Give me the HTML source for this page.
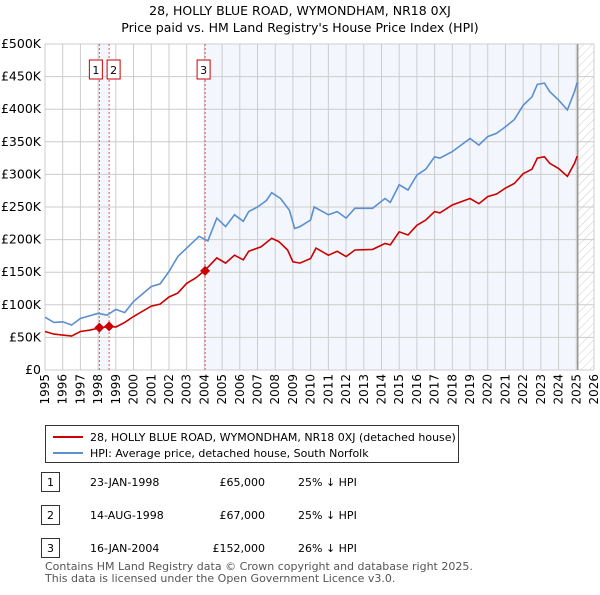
<!DOCTYPE html>
<html><head><meta charset="utf-8"><style>
body{margin:0;background:#fff;font-family:"Liberation Sans",sans-serif;}
svg text{font-family:"DejaVu Sans","Liberation Sans",sans-serif;}
</style></head><body>
<svg id="c" width="600" height="590" xmlns="http://www.w3.org/2000/svg">
<defs><pattern id="h" width="6" height="6" patternUnits="userSpaceOnUse" patternTransform="rotate(45)"><line x1="0" y1="0" x2="0" y2="6" stroke="#ccc" stroke-width="1"/></pattern></defs>
<text x="300" y="15" text-anchor="middle" font-size="12.5">28, HOLLY BLUE ROAD, WYMONDHAM, NR18 0XJ</text>
<text x="300" y="32" text-anchor="middle" font-size="12.5">Price paid vs. HM Land Registry's House Price Index (HPI)</text>
<g id="plot"></g>
<g>
<rect x="45.5" y="425.5" width="413" height="37" fill="#fff" stroke="#333"/>
<line x1="53" y1="437" x2="83" y2="437" stroke="#cc0000" stroke-width="2"/>
<text x="90" y="441" font-size="11">28, HOLLY BLUE ROAD, WYMONDHAM, NR18 0XJ (detached house)</text>
<line x1="53" y1="453" x2="83" y2="453" stroke="#5b8fd0" stroke-width="2"/>
<text x="90" y="457" font-size="11">HPI: Average price, detached house, South Norfolk</text>
</g>
<g id="tbl" font-size="11"></g>
<text x="45" y="570" font-size="11" fill="#555">Contains HM Land Registry data © Crown copyright and database right 2025.</text>
<text x="45" y="582" font-size="11" fill="#555">This data is licensed under the Open Government Licence v3.0.</text>
</svg>
<script>
const yearTicks=[1995,1996,1997,1998,1999,2000,2001,2002,2003,2004,2005,2006,2007,2008,2009,2010,2011,2012,2013,2014,2015,2016,2017,2018,2019,2020,2021,2022,2023,2024,2025,2026];
const valueTicks=[0,50000,100000,150000,200000,250000,300000,350000,400000,450000,500000];
const valueTickLabels=["£0","£50K","£100K","£150K","£200K","£250K","£300K","£350K","£400K","£450K","£500K"];
const hpiYears=[1995,1995.5,1996,1996.5,1997,1998,1998.5,1999,1999.5,2000,2001,2001.5,2002,2002.5,2003,2003.7,2004.2,2004.7,2005.2,2005.7,2006.2,2006.5,2007,2007.5,2007.8,2008.3,2008.8,2009.1,2009.4,2010,2010.2,2011,2011.5,2012,2012.5,2013.5,2014.2,2014.5,2015,2015.5,2016,2016.5,2017,2017.3,2018,2019,2019.5,2020,2020.5,2021,2021.5,2022,2022.5,2022.8,2023.2,2023.5,2024,2024.5,2024.9,2025.05];
const hpiValues=[81000,73000,74000,69000,79000,87000,84000,93000,88000,105000,128000,132000,151000,174000,187000,205000,198000,233000,220000,238000,228000,243000,250000,260000,272000,263000,245000,217000,220000,230000,250000,238000,243000,233000,248000,248000,263000,257000,284000,276000,299000,308000,327000,325000,335000,355000,345000,358000,363000,373000,384000,406000,419000,438000,440000,427000,414000,399000,427000,441000];
const propYears=[1995,1995.5,1996.5,1997,1997.5,1998,1998.6,1999,1999.5,2000,2001,2001.5,2002,2002.5,2003,2003.5,2004,2004.7,2005.2,2005.7,2006.2,2006.5,2007.2,2007.8,2008.2,2008.7,2009.0,2009.4,2010,2010.3,2011,2011.5,2012,2012.5,2013.5,2014.2,2014.5,2015,2015.5,2016,2016.5,2017,2017.3,2018,2019,2019.5,2020,2020.5,2021,2021.5,2022,2022.5,2022.8,2023.2,2023.5,2024,2024.5,2024.9,2025.05];
const propValues=[59000,55000,52000,59000,61000,64000,67000,66000,73000,82000,98000,101000,112000,118000,133000,141000,152000,172000,164000,176000,169000,182000,189000,202000,197000,184000,166000,164000,171000,187000,176000,182000,174000,184000,185000,194000,192000,212000,207000,222000,230000,243000,241000,253000,263000,255000,266000,270000,279000,286000,301000,308000,325000,327000,317000,309000,297000,317000,328000];
const saleLabels=["1","2","3"];
const saleYears=[1998.07,1998.62,2004.04];
const salePrices=[65000,67000,152000];
const saleDates=["23-JAN-1998","14-AUG-1998","16-JAN-2004"];
const salePriceText=["£65,000","£67,000","£152,000"];
const saleHpiText=["25% ↓ HPI","25% ↓ HPI","26% ↓ HPI"];
const dataEnd=2025.08;

const X0=45,X1=594,Y0=370,Y1=44;
const xs=y=>X0+(y-1995)/(2026-1995)*(X1-X0);
const ys=v=>Y0-v/500000*(Y0-Y1);
const NS="http://www.w3.org/2000/svg";
function mk(p,t,a){const e=document.createElementNS(NS,t);for(const k in a)e.setAttribute(k,a[k]);p.appendChild(e);return e;}
const g=document.getElementById('plot');
let r;
r=mk(g,'rect',{x:xs(saleYears[0]),y:Y1,width:xs(saleYears[1])-xs(saleYears[0]),height:Y0-Y1,fill:'#eef3fc',opacity:0.7});

r=mk(g,'rect',{x:xs(saleYears[2]),y:Y1,width:xs(dataEnd)-xs(saleYears[2]),height:Y0-Y1,fill:'#eef3fc',opacity:0.7});

r=mk(g,'rect',{x:xs(dataEnd),y:Y1,width:X1-xs(dataEnd),height:Y0-Y1,fill:'url(#h)'});

yearTicks.forEach(y=>{const l=mk(g,'line',{x1:xs(y),x2:xs(y),y1:Y1,y2:Y0,stroke:'#ccc'});

const t=mk(g,'text',{x:0,y:0,'font-size':12,'text-anchor':'end',transform:`translate(${xs(y)+4},${Y0+4}) rotate(-90)`});t.textContent=y;
});
valueTicks.forEach((v,i)=>{const l=mk(g,'line',{x1:X0,x2:X1,y1:ys(v),y2:ys(v),stroke:'#ccc'});

const t=mk(g,'text',{x:X0-4,y:ys(v)+4,'font-size':12.5,'text-anchor':'end'});t.textContent=valueTickLabels[i];
});
r=mk(g,'line',{x1:xs(dataEnd),x2:xs(dataEnd),y1:Y1,y2:Y0,stroke:'#999','stroke-width':1.5});

saleYears.forEach((y,i)=>{const l=mk(g,'line',{x1:xs(y),x2:xs(y),y1:Y1,y2:Y0,stroke:'#f05050','stroke-dasharray':'2,2'});
});
function path(xsA,vs,c,name){const d=xsA.map((y,i)=>(i?'L':'M')+xs(y).toFixed(1)+','+ys(vs[i]).toFixed(1)).join('');
const p=mk(g,'path',{d:d,fill:'none',stroke:c,'stroke-width':1.6});}
path(hpiYears,hpiValues,'#5b8fd0','hpi-line');
path(propYears,propValues,'#cc0000','property-price-line');
saleYears.forEach((y,i)=>{const cx=xs(y),cy=ys(salePrices[i]);
const d=mk(g,'path',{d:`M${cx-5},${cy}L${cx},${cy-5}L${cx+5},${cy}L${cx},${cy+5}Z`,fill:'#cc0000'});

const bx=i===0?cx-10:(i===1?cx-2:cx-8);
const b=mk(g,'rect',{x:bx,y:60,width:13,height:19,fill:'#fff',stroke:'#cc0000'});

const t=mk(g,'text',{x:bx+6.5,y:74,'font-size':11,'text-anchor':'middle'});t.textContent=saleLabels[i];
});
const tb=document.getElementById('tbl');
[482,515,548].forEach((yy,i)=>{const b=mk(tb,'rect',{x:41.5,y:yy-9.5,width:18,height:19,fill:'#fff',stroke:'#333'});

const cells=[[50.5,saleLabels[i],'middle'],[90,saleDates[i],'start'],[265,salePriceText[i],'end'],[298,saleHpiText[i],'start']];
cells.forEach(c=>{const t=mk(tb,'text',{x:c[0],y:yy+4,'text-anchor':c[2]});t.textContent=c[1];
});});
</script>
</body></html>
